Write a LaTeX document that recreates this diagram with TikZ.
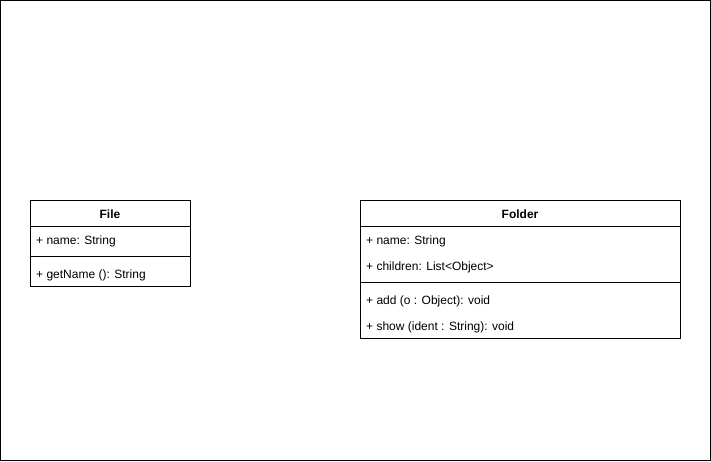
\documentclass[tikz,border=0pt]{standalone}
\usepackage{fontspec}
\setmainfont{Liberation Sans}
\begin{document}
\begin{tikzpicture}[x=1pt,y=-1pt,
  box/.style={draw=black,line width=1pt,fill=white,inner sep=0pt,anchor=north west},
  title/.style={font=\fontsize{12}{14}\selectfont\bfseries,inner sep=0pt},
  member/.style={font=\fontsize{12}{14}\selectfont,anchor=west,inner sep=0pt}]
\useasboundingbox (0,0) rectangle (711,461);
\draw[line width=1pt] (0.5,0.5) rectangle (710.5,460.5);
% File
\node[box,minimum width=160pt,minimum height=86pt] (file) at (30,200) {};
\draw[line width=1pt] (30,226) -- (190,226);
\draw[line width=1pt] (30,256) -- (190,256);
\node[title] (filet) at (110,214.5) {File};
\node[member] (filea) at (36,241.5) {+ name: String};
\node[member] (filem) at (36,275.5) {+ getName (): String};
% Folder
\node[box,minimum width=320pt,minimum height=138pt] (folder) at (360,200) {};
\draw[line width=1pt] (360,226) -- (680,226);
\draw[line width=1pt] (360,282) -- (680,282);
\node[title] (foldt) at (520,214.5) {Folder};
\node[member] (folda1) at (366,241.5) {+ name: String};
\node[member] (folda2) at (366,267.5) {+ children: List<Object>};
\node[member] (foldm1) at (366,301.5) {+ add (o : Object): void};
\node[member] (foldm2) at (366,327.5) {+ show (ident : String): void};
\end{tikzpicture}
\end{document}
